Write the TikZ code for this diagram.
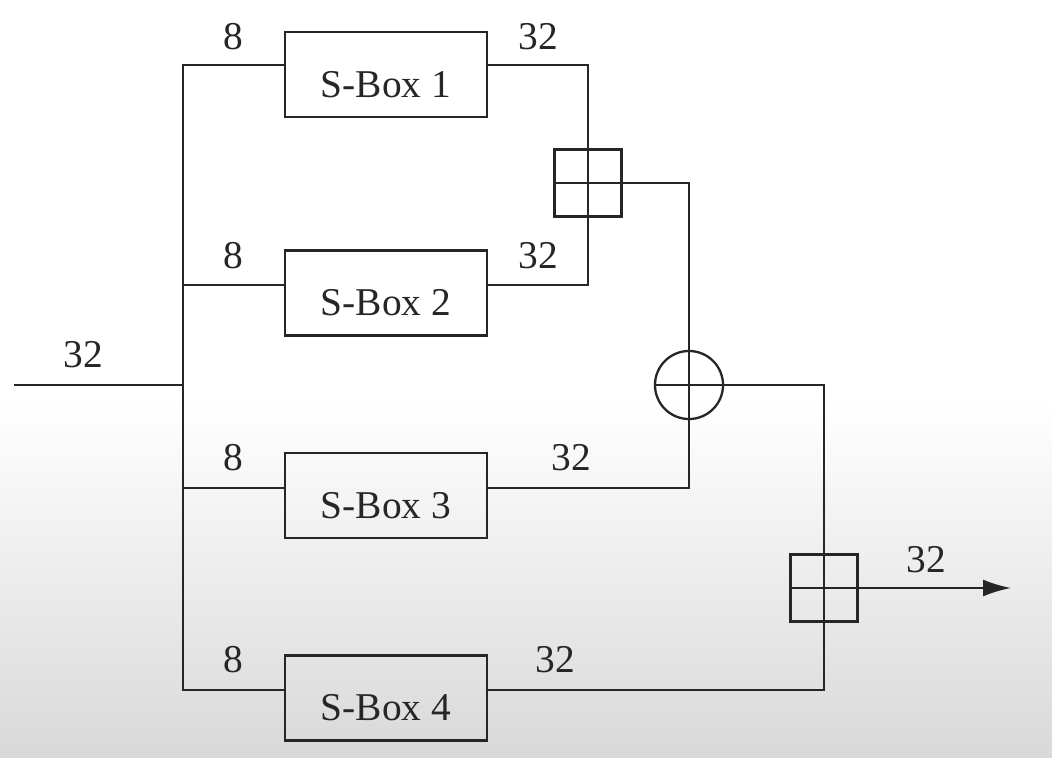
\documentclass[tikz,border=0pt]{standalone}
\usepackage{fontspec}
\setmainfont{Liberation Serif}
\usetikzlibrary{arrows.meta}
\tikzstyle{sbox}=[draw, minimum width=2.02cm, minimum height=0.85cm, inner sep=0pt, text height=0.45cm, text depth=0cm]
\tikzstyle{adder}=[draw, minimum size=0.67cm, inner sep=0pt]
\tikzstyle{xorop}=[draw, circle, minimum size=0.68cm, inner sep=0pt]
\tikzstyle{width}=[inner sep=0pt]

\begin{document}
\begin{tikzpicture}[x=0.01cm, y=-0.01cm, line width=0.65pt, black!85, font=\fontsize{11.2}{13}\selectfont]
% Background
    \useasboundingbox (0,0) rectangle (1052,758);
    \fill[white] (0,0) rectangle (1052,758);
    \shade[top color=white, bottom color=black!15] (0,400) rectangle (1052,758);
% Boxes
    \node[sbox] (sb1) at (386,74.5) {S-Box 1};
    \node[sbox] (sb2) at (386,293) {S-Box 2};
    \node[sbox] (sb3) at (386,495.5) {S-Box 3};
    \node[sbox] (sb4) at (386,698) {S-Box 4};
%Adders
    \node[adder] (add1) at (588,183) {};
    \node[xorop] (xor) at (689,385) {};
    \node[adder] (add2) at (824,588) {};
%Taps on the bus
    \coordinate (t1) at (183,65);
    \coordinate (t2) at (183,285);
    \coordinate (t3) at (183,488);
    \coordinate (t4) at (183,690);
    \coordinate (inp) at (14,385);
    \coordinate (outp) at (1011,588);
%Wires
    \draw (inp) -- (t1 |- inp);
    \draw (sb1.west |- t1) -- (t1) -- (t4) -- (sb4.west |- t4);
    \draw (t2) -- (sb2.west |- t2);
    \draw (t3) -- (sb3.west |- t3);
    \draw (sb1.east |- t1) -| (add1.center) |- (sb2.east |- t2);
    \draw (add1.west) -| (xor.center) |- (sb3.east |- t3);
    \draw (xor.west) -| (add2.center) |- (sb4.east |- t4);
    \draw[-{Latex[length=0.28cm, width=0.17cm]}] (add2.west) -- (outp);
%Widths
    \node[width] (w1) at (233,37) {8};
    \node[width] (w2) at (233,256) {8};
    \node[width] (w3) at (233,458) {8};
    \node[width] (w4) at (233,660) {8};
    \node[width] (v1) at (538,37) {32};
    \node[width] (v2) at (538,256) {32};
    \node[width] (v3) at (571,458) {32};
    \node[width] (v4) at (555,660) {32};
    \node[width] (vin) at (83,355) {32};
    \node[width] (vout) at (926,560) {32};
\end{tikzpicture}
\end{document}
